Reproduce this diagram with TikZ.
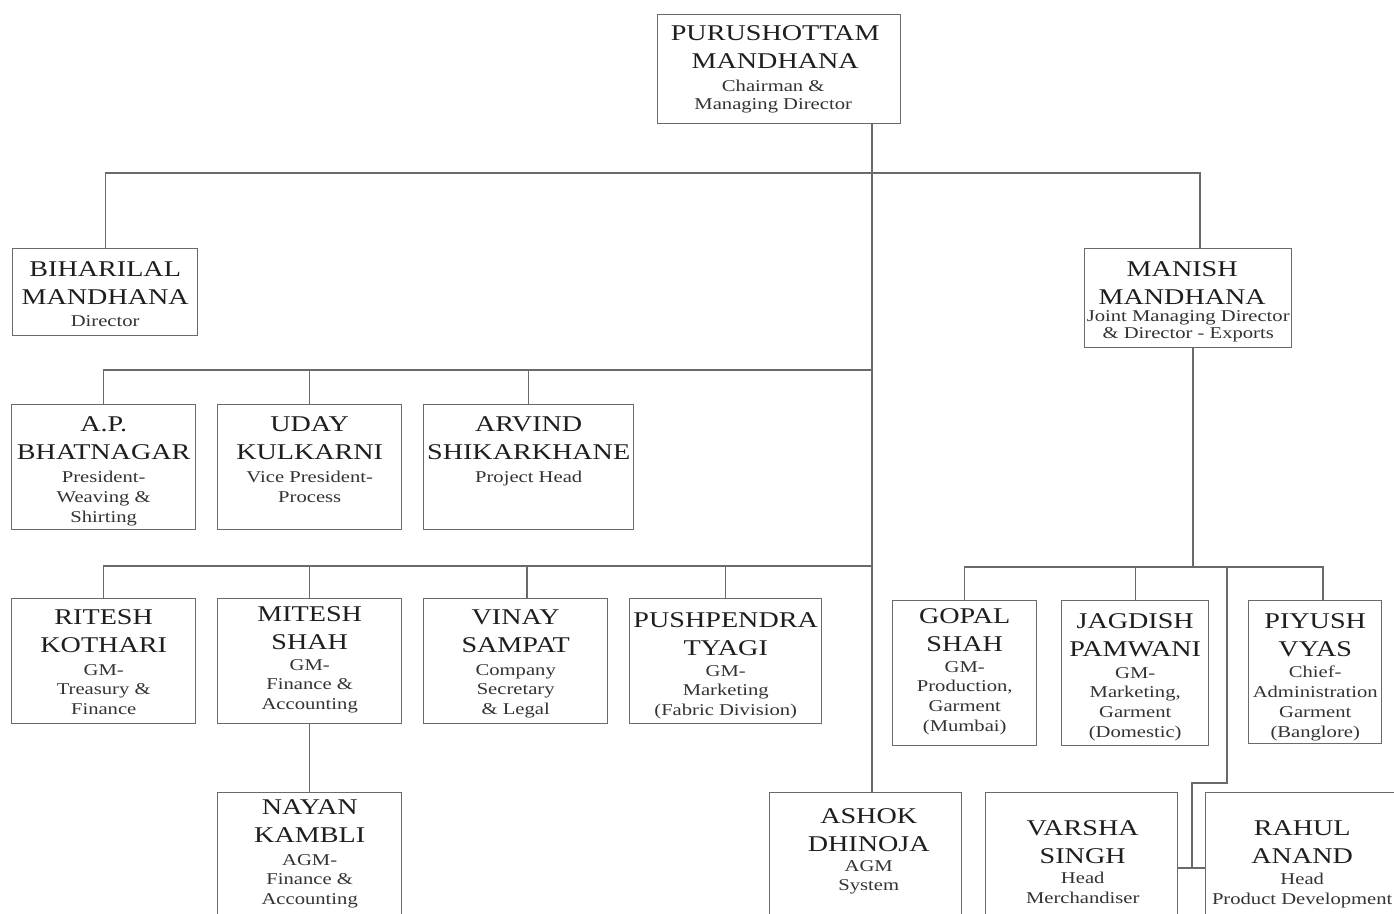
\documentclass[tikz,border=0pt]{standalone}
\usepackage{fontspec}
\setmainfont{Liberation Serif}
\newfontfamily\orgfont[FakeStretch=1.25]{Liberation Serif}
\usetikzlibrary{calc}
\definecolor{boxgray}{HTML}{6A6A6A}
\definecolor{linegray}{HTML}{6A6A6A}
\definecolor{textdark}{HTML}{1E1E1E}
\definecolor{textsub}{HTML}{333333}
\begin{document}
\begin{tikzpicture}[x=1pt,y=-1pt,
  box/.style={draw=boxgray, line width=1.4pt, rectangle, inner sep=0pt, anchor=north west},
  nm/.style={inner sep=0pt, anchor=north, align=center, text=textdark, font=\orgfont\fontsize{22.5}{28}\selectfont},
  sb/.style={inner sep=0pt, anchor=north, align=center, text=textsub, font=\orgfont\fontsize{16.5}{19.8}\selectfont},
  sbt/.style={sb, font=\orgfont\fontsize{16.5}{17.5}\selectfont},
  link/.style={draw=linegray, line width=1.4pt}]
\useasboundingbox (0,0) rectangle (1394,913);
\clip (0,0) rectangle (1394,913);
\fill[white] (0,0) rectangle (1394,913);

% boxes
\node[box, minimum width=243pt, minimum height=109pt] (pm)  at (657,14)  {};
\node[box, minimum width=185pt, minimum height=87pt]  (bih) at (12,248)  {};
\node[box, minimum width=207pt, minimum height=99pt]  (man) at (1084,248) {};
\node[box, minimum width=184pt, minimum height=125pt] (ap)  at (11,404)  {};
\node[box, minimum width=184pt, minimum height=125pt] (ud)  at (217,404) {};
\node[box, minimum width=210pt, minimum height=125pt] (arv) at (423,404) {};
\node[box, minimum width=184pt, minimum height=125pt] (rit) at (11,598)  {};
\node[box, minimum width=184pt, minimum height=125pt] (mit) at (217,598) {};
\node[box, minimum width=184pt, minimum height=125pt] (vin) at (423,598) {};
\node[box, minimum width=192pt, minimum height=125pt] (pus) at (629,598) {};
\node[box, minimum width=144pt, minimum height=145pt] (gop) at (892,600) {};
\node[box, minimum width=147pt, minimum height=145pt] (jag) at (1061,600) {};
\node[box, minimum width=133pt, minimum height=143pt] (piy) at (1248,600) {};
\node[box, minimum width=184pt, minimum height=140pt] (nay) at (217,792) {};
\node[box, minimum width=192pt, minimum height=140pt] (ash) at (769,792) {};
\node[box, minimum width=192pt, minimum height=140pt] (var) at (985,792) {};
\node[box, minimum width=193pt, minimum height=140pt] (rah) at (1205,792) {};

% texts
\node[nm]  (pmN)  at ($(pm.north)+(-4,11)$) {PURUSHOTTAM\\MANDHANA};
\node[sbt] (pmS)  at ($(pm.north)+(-6,66)$) {Chairman \&\\Managing Director};
\node[nm]  (bihN) at ($(bih.north)+(0,13)$) {BIHARILAL\\MANDHANA};
\node[sb]  (bihS) at ($(bih.north)+(0,67)$) {Director};
\node[nm]  (manN) at ($(man.north)+(-6,13)$) {MANISH\\MANDHANA};
\node[sbt] (manS) at ($(man.north)+(0,62)$) {Joint Managing Director\\\& Director - Exports};
\node[nm]  (apN)  at ($(ap.north)+(0,12)$) {A.P.\\BHATNAGAR};
\node[sb]  (apS)  at ($(ap.north)+(0,67)$) {President-\\Weaving \&\\Shirting};
\node[nm]  (udN)  at ($(ud.north)+(0,12)$) {UDAY\\KULKARNI};
\node[sb]  (udS)  at ($(ud.north)+(0,67)$) {Vice President-\\Process};
\node[nm]  (arvN) at ($(arv.north)+(0,12)$) {ARVIND\\SHIKARKHANE};
\node[sb]  (arvS) at ($(arv.north)+(0,67)$) {Project Head};
\node[nm]  (ritN) at ($(rit.north)+(0,11)$) {RITESH\\KOTHARI};
\node[sb]  (ritS) at ($(rit.north)+(0,66)$) {GM-\\Treasury \&\\Finance};
\node[nm]  (mitN) at ($(mit.north)+(0,8)$) {MITESH\\SHAH};
\node[sb]  (mitS) at ($(mit.north)+(0,61)$) {GM-\\Finance \&\\Accounting};
\node[nm]  (vinN) at ($(vin.north)+(0,11)$) {VINAY\\SAMPAT};
\node[sb]  (vinS) at ($(vin.north)+(0,66)$) {Company\\Secretary\\\& Legal};
\node[nm]  (pusN) at ($(pus.north)+(0,14)$) {PUSHPENDRA\\TYAGI};
\node[sb]  (pusS) at ($(pus.north)+(0,67)$) {GM-\\Marketing\\(Fabric Division)};
\node[nm]  (gopN) at ($(gop.north)+(0,8)$) {GOPAL\\SHAH};
\node[sb]  (gopS) at ($(gop.north)+(0,61)$) {GM-\\Production,\\Garment\\(Mumbai)};
\node[nm]  (jagN) at ($(jag.north)+(0,13)$) {JAGDISH\\PAMWANI};
\node[sb]  (jagS) at ($(jag.north)+(0,67)$) {GM-\\Marketing,\\Garment\\(Domestic)};
\node[nm]  (piyN) at ($(piy.north)+(0,13)$) {PIYUSH\\VYAS};
\node[sb]  (piyS) at ($(piy.north)+(0,66)$) {Chief-\\Administration\\Garment\\(Banglore)};
\node[nm]  (nayN) at ($(nay.north)+(0,7)$) {NAYAN\\KAMBLI};
\node[sb]  (nayS) at ($(nay.north)+(0,62)$) {AGM-\\Finance \&\\Accounting};
\node[nm]  (ashN) at ($(ash.north)+(3,16)$) {ASHOK\\DHINOJA};
\node[sb]  (ashS) at ($(ash.north)+(3,68)$) {AGM\\System};
\node[nm]  (varN) at ($(var.north)+(1,28)$) {VARSHA\\SINGH};
\node[sb]  (varS) at ($(var.north)+(1,80)$) {Head\\Merchandiser};
\node[nm]  (rahN) at ($(rah.north)+(0,28)$) {RAHUL\\ANAND};
\node[sb]  (rahS) at ($(rah.north)+(0,81)$) {Head\\Product Development};

% helper coordinates
\coordinate (trunk) at (872,0);
\coordinate (xman) at (1200,0);
\coordinate (xmanb) at (1193,0);
\coordinate (xvin) at (527,0);
\coordinate (xpiy) at (1323,0);
\coordinate (xbr) at (1227,0);
\coordinate (xjog) at (1192,0);
\coordinate (busA) at (0,173);
\coordinate (busB) at (0,370);
\coordinate (busC) at (0,566);
\coordinate (busD) at (0,567);
\coordinate (jog) at (0,783);
\coordinate (hb) at (0,868);

% connectors
\draw[link] (trunk |- pm.south) -- (trunk |- ash.north);
\draw[link] (bih.north) -- (bih.north |- busA) -- (xman |- busA) -- (xman |- man.north);
\draw[link] (ap.north) -- (ap.north |- busB) -- (trunk |- busB);
\draw[link] (ud.north) -- (ud.north |- busB);
\draw[link] (arv.north) -- (arv.north |- busB);
\draw[link] (rit.north) -- (rit.north |- busC) -- (trunk |- busC);
\draw[link] (mit.north) -- (mit.north |- busC);
\draw[link] (xvin |- vin.north) -- (xvin |- busC);
\draw[link] (pus.north) -- (pus.north |- busC);
\draw[link] (mit.south) -- (nay.north);
\draw[link] (xmanb |- man.south) -- (xmanb |- busD);
\draw[link] (gop.north) -- (gop.north |- busD) -- (xpiy |- busD) -- (xpiy |- piy.north);
\draw[link] (jag.north) -- (jag.north |- busD);
\draw[link] (xbr |- busD) -- (xbr |- jog) -- (xjog |- jog) -- (xjog |- hb);
\draw[link] (var.east |- hb) -- (rah.west |- hb);
\end{tikzpicture}
\end{document}
